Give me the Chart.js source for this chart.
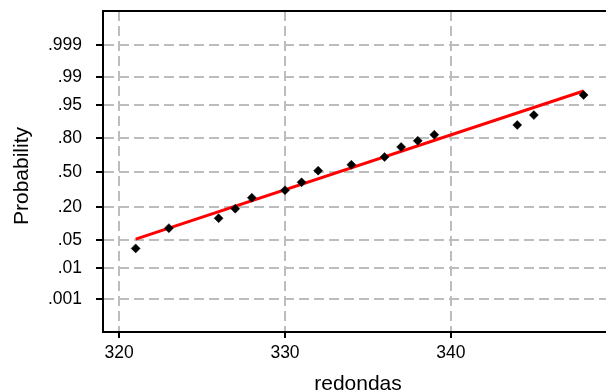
<!DOCTYPE html>
<html>
<head>
<meta charset="utf-8">
<script src="https://cdn.jsdelivr.net/npm/chart.js@4.4.0/dist/chart.umd.min.js"></script>
<style>
  html, body { margin: 0; padding: 0; background: #fff; overflow: hidden; }
  #wrap { width: 618px; height: 392px; }
</style>
</head>
<body>
<div id="wrap"><canvas id="chartProb" width="618" height="392"></canvas></div>
<script>
// observed values and their plotting probabilities
const redondas = [321, 323, 326, 327, 328, 330, 331, 332, 334, 336, 337, 338, 339, 344, 345, 348];
const probs = [0.032, 0.087, 0.132, 0.188, 0.268, 0.331, 0.404, 0.516, 0.573, 0.645, 0.731, 0.779, 0.820, 0.875, 0.918, 0.970];

// fitted normal line, ends at the data range
const fitX = [321, 348];
const fitP = [0.052, 0.976];

const xTicks = [320, 330, 340];
const probTicks = [0.001, 0.01, 0.05, 0.20, 0.50, 0.80, 0.95, 0.99, 0.999];
const probLabels = [".001", ".01", ".05", ".20", ".50", ".80", ".95", ".99", ".999"];

const FONT = '"Liberation Sans", Arial, Helvetica, sans-serif';

// inverse standard normal CDF (Acklam's approximation)
function probit(p) {
  const a = [-3.969683028665376e+01, 2.209460984245205e+02, -2.759285104469687e+02, 1.383577518672690e+02, -3.066479806614716e+01, 2.506628277459239e+00];
  const b = [-5.447609879822406e+01, 1.615858368580409e+02, -1.556989798598866e+02, 6.680131188771972e+01, -1.328068155288572e+01];
  const c = [-7.784894002430293e-03, -3.223964580411365e-01, -2.400758277161838e+00, -2.549671348344840e+00, 4.374664141464968e+00, 2.938163982698783e+00];
  const d = [7.784695709041462e-03, 3.224671290700398e-01, 2.445134137142996e+00, 3.754408661907416e+00];
  const plow = 0.02425;
  let q, r;
  if (p < plow) {
    q = Math.sqrt(-2 * Math.log(p));
    return (((((c[0]*q+c[1])*q+c[2])*q+c[3])*q+c[4])*q+c[5]) / ((((d[0]*q+d[1])*q+d[2])*q+d[3])*q+1);
  }
  if (p <= 1 - plow) {
    q = p - 0.5; r = q * q;
    return (((((a[0]*r+a[1])*r+a[2])*r+a[3])*r+a[4])*r+a[5])*q / (((((b[0]*r+b[1])*r+b[2])*r+b[3])*r+b[4])*r+1);
  }
  q = Math.sqrt(-2 * Math.log(1 - p));
  return -(((((c[0]*q+c[1])*q+c[2])*q+c[3])*q+c[4])*q+c[5]) / ((((d[0]*q+d[1])*q+d[2])*q+d[3])*q+1);
}

const points = redondas.map((x, i) => ({ x, y: probit(probs[i]) }));
const fitLine = fitX.map((x, i) => ({ x, y: probit(fitP[i]) }));

// top frame line and the two axis titles
const frameAndTitles = {
  id: "frameAndTitles",
  beforeDatasetsDraw(chart) {
    const { ctx, chartArea } = chart;
    ctx.save();
    ctx.strokeStyle = "#000";
    ctx.lineWidth = 2;
    ctx.beginPath();
    ctx.moveTo(chartArea.left - 1, chartArea.top);
    ctx.lineTo(chartArea.right, chartArea.top);
    ctx.stroke();
    ctx.restore();
  },
  afterDraw(chart) {
    const { ctx, chartArea } = chart;
    ctx.save();
    ctx.fillStyle = "#000";
    ctx.font = "21px " + FONT;
    ctx.textAlign = "center";
    ctx.textBaseline = "alphabetic";
    ctx.fillText("redondas", (chartArea.left + chartArea.right) / 2, 390);
    ctx.translate(28, 176);
    ctx.rotate(-Math.PI / 2);
    ctx.fillText("Probability", 0, 0);
    ctx.restore();
  }
};

const gridColor = "#bdbdbd";

new Chart(document.getElementById("chartProb"), {
  type: "scatter",
  data: {
    datasets: [
      { data: points, pointStyle: "rectRot", pointRadius: 4.5, pointHoverRadius: 4.5,
        backgroundColor: "#000", borderColor: "#000", borderWidth: 0.5, order: 0 },
      { data: fitLine, showLine: true, borderColor: "#ff0000", borderWidth: 3,
        pointRadius: 0, order: 1 }
    ]
  },
  options: {
    responsive: false,
    animation: false,
    devicePixelRatio: 1,
    layout: { padding: { top: 11, left: 0, right: 0, bottom: 0 } },
    plugins: { legend: { display: false }, tooltip: { enabled: false } },
    scales: {
      x: {
        type: "linear",
        min: 319.03,
        max: 349.77,
        afterBuildTicks: s => { s.ticks = xTicks.map(v => ({ value: v })); },
        afterFit: s => { s.height = 60; s.paddingLeft = 0; s.paddingRight = 0; },
        grid: { color: gridColor, lineWidth: 2, tickColor: "#000", tickLength: 6, tickWidth: 2 },
        border: { color: "#000", width: 2, dash: [10, 5] },
        ticks: { color: "#000", font: { family: FONT, size: 17.5 }, padding: 5, maxRotation: 0, autoSkip: false }
      },
      y: {
        type: "linear",
        min: -3.886,
        max: 3.925,
        afterBuildTicks: s => { s.ticks = probTicks.map(p => ({ value: probit(p) })); },
        afterFit: s => { s.width = 103; s.paddingTop = 0; s.paddingBottom = 0; },
        grid: { color: gridColor, lineWidth: 2, tickColor: "#000", tickLength: 7, tickWidth: 2 },
        border: { color: "#000", width: 2, dash: [10, 5] },
        ticks: {
          color: "#000",
          font: { family: FONT, size: 17.5 },
          padding: 14,
          autoSkip: false,
          callback: (v, i) => probLabels[i]
        }
      }
    }
  },
  plugins: [frameAndTitles]
});
</script>
</body>
</html>
